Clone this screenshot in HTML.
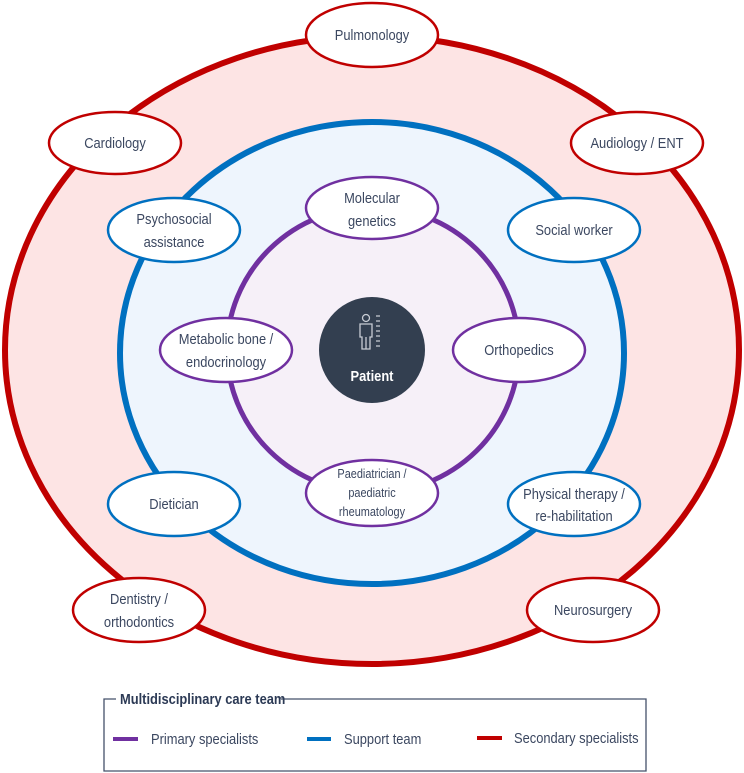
<!DOCTYPE html>
<html><head><meta charset="utf-8"><style>
html,body{margin:0;padding:0;background:#fff;}
svg{display:block;}
text{font-family:"Liberation Sans Narrow","Liberation Sans",sans-serif;fill:#3b4760;}
</style></head><body>
<svg width="744" height="773" viewBox="0 0 744 773" xmlns="http://www.w3.org/2000/svg">
<ellipse cx="372" cy="350" rx="367" ry="314" fill="#fde4e4" stroke="#c00000" stroke-width="6"/>
<ellipse cx="372" cy="353" rx="252" ry="231" fill="#eef5fd" stroke="#0070c0" stroke-width="6"/>
<ellipse cx="373" cy="350" rx="146" ry="143" fill="#f6f0f8" stroke="#7030a0" stroke-width="5"/>
<g stroke-width="2.5" fill="#fff">
<ellipse cx="372" cy="35" rx="66" ry="32" stroke="#c00000"/>
<ellipse cx="115" cy="143" rx="66" ry="31" stroke="#c00000"/>
<ellipse cx="637" cy="143" rx="66" ry="31" stroke="#c00000"/>
<ellipse cx="139" cy="610" rx="66" ry="32" stroke="#c00000"/>
<ellipse cx="593" cy="610" rx="66" ry="32" stroke="#c00000"/>
<ellipse cx="174" cy="230" rx="66" ry="32" stroke="#0070c0"/>
<ellipse cx="574" cy="230" rx="66" ry="32" stroke="#0070c0"/>
<ellipse cx="174" cy="504" rx="66" ry="32" stroke="#0070c0"/>
<ellipse cx="574" cy="504" rx="66" ry="32" stroke="#0070c0"/>
<ellipse cx="372" cy="208" rx="66" ry="31" stroke="#7030a0"/>
<ellipse cx="226" cy="350" rx="66" ry="32" stroke="#7030a0"/>
<ellipse cx="519" cy="350" rx="66" ry="32" stroke="#7030a0"/>
<ellipse cx="372" cy="493" rx="66" ry="33" stroke="#7030a0"/>
</g>
<circle cx="372" cy="350" r="53" fill="#333f50"/>
<g stroke="#c8ccd4" stroke-width="1.3" fill="none">
<circle cx="366" cy="318" r="3.5"/>
<path d="M360 324 h12 v13 h-2 v12 h-8 v-12 h-2 z"/>
<path d="M366 337 v12"/>
<path d="M376 316h4 M376 321h4 M376 326h4 M376 331h4 M376 336h4 M376 341h4 M376 346h4"/>
</g>
<text transform="translate(372,381) scale(.86,1)" text-anchor="middle" font-size="15" font-weight="bold" style="fill:#fff">Patient</text>
<g font-size="15" text-anchor="middle">
<text transform="translate(372,40) scale(.86,1)">Pulmonology</text>
<text transform="translate(115,148) scale(.86,1)">Cardiology</text>
<text transform="translate(637,148) scale(.86,1)">Audiology / ENT</text>
<text transform="translate(139,604) scale(.86,1)">Dentistry /</text>
<text transform="translate(139,627) scale(.86,1)">orthodontics</text>
<text transform="translate(593,615) scale(.86,1)">Neurosurgery</text>
<text transform="translate(174,224) scale(.86,1)">Psychosocial</text>
<text transform="translate(174,247) scale(.86,1)">assistance</text>
<text transform="translate(574,235) scale(.86,1)">Social worker</text>
<text transform="translate(174,509) scale(.86,1)">Dietician</text>
<text transform="translate(574,499) scale(.86,1)">Physical therapy /</text>
<text transform="translate(574,521) scale(.86,1)">re-habilitation</text>
<text transform="translate(372,203) scale(.86,1)">Molecular</text>
<text transform="translate(372,226) scale(.86,1)">genetics</text>
<text transform="translate(226,344) scale(.86,1)">Metabolic bone /</text>
<text transform="translate(226,367) scale(.86,1)">endocrinology</text>
<text transform="translate(519,355) scale(.86,1)">Orthopedics</text>
</g>
<g font-size="13" text-anchor="middle">
<text transform="translate(372,478) scale(.84,1)">Paediatrician /</text>
<text transform="translate(372,497) scale(.84,1)">paediatric</text>
<text transform="translate(372,516) scale(.84,1)">rheumatology</text>
</g>
<path d="M116 699 H104 V771 H646 V699 H281" fill="none" stroke="#44506a" stroke-width="1.3"/>
<text transform="translate(120,704) scale(.86,1)" font-size="15" font-weight="bold" style="fill:#2c3a55">Multidisciplinary care team</text>
<line x1="113" y1="739" x2="138" y2="739" stroke="#7030a0" stroke-width="4"/>
<text transform="translate(151,744) scale(.86,1)" font-size="15">Primary specialists</text>
<line x1="307" y1="739" x2="331" y2="739" stroke="#0070c0" stroke-width="4"/>
<text transform="translate(344,744) scale(.86,1)" font-size="15">Support team</text>
<line x1="477" y1="738" x2="502" y2="738" stroke="#c00000" stroke-width="4"/>
<text transform="translate(514,743) scale(.86,1)" font-size="15">Secondary specialists</text>
</svg>
</body></html>
